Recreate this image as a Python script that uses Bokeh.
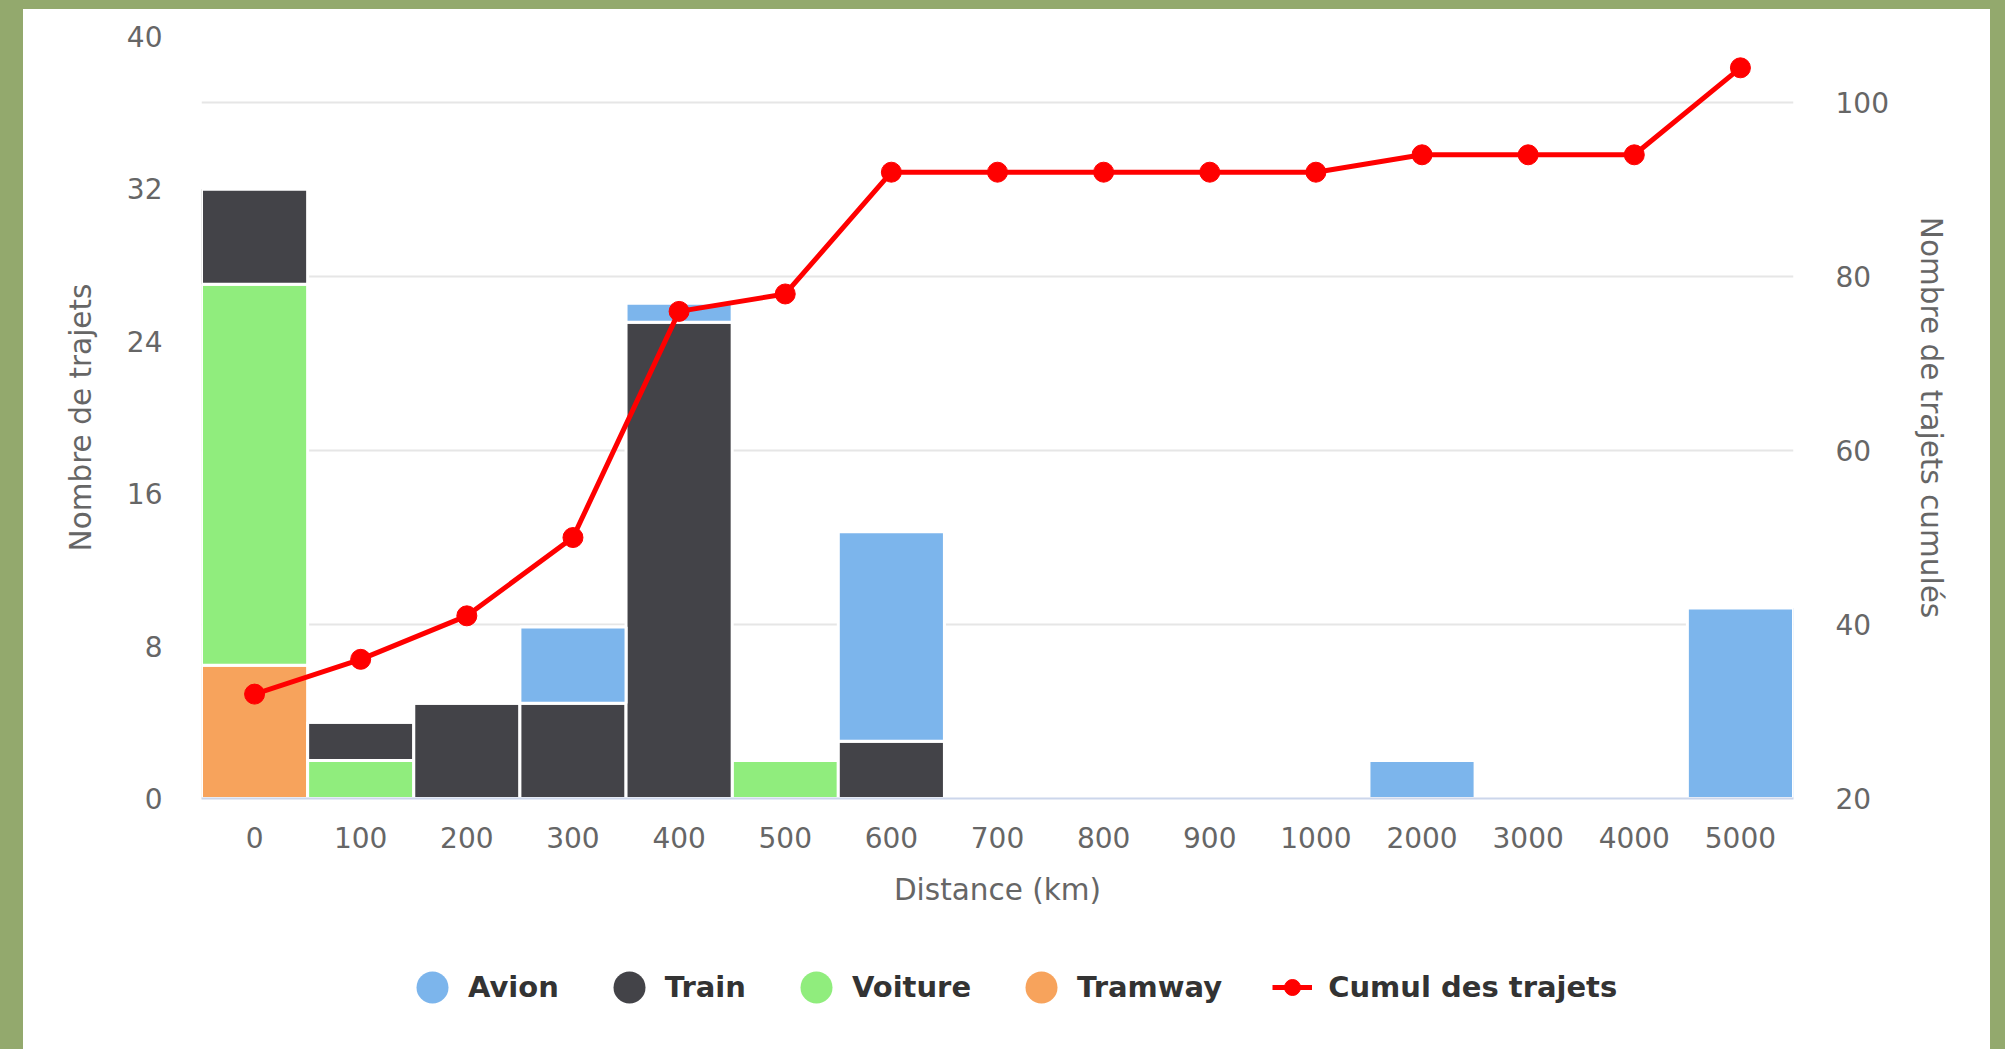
from bokeh.plotting import figure
from bokeh.models import (Range1d, FactorRange, LinearAxis, FixedTicker, Grid,
                          Legend, LegendItem, ColumnDataSource)
from bokeh.layouts import column
from bokeh.embed import file_html
from bokeh.resources import INLINE

# ---------------- data ----------------
distances = ["0", "100", "200", "300", "400", "500", "600", "700", "800",
             "900", "1000", "2000", "3000", "4000", "5000"]
avion   = [0, 0, 0, 4, 1, 0, 11, 0, 0, 0, 0, 2, 0, 0, 10]
train   = [5, 2, 5, 5, 25, 0, 3, 0, 0, 0, 0, 0, 0, 0, 0]
voiture = [20, 2, 0, 0, 0, 2, 0, 0, 0, 0, 0, 0, 0, 0, 0]
tramway = [7, 0, 0, 0, 0, 0, 0, 0, 0, 0, 0, 0, 0, 0, 0]
cumul   = [32, 36, 41, 50, 76, 78, 92, 92, 92, 92, 92, 94, 94, 94, 104]

left_ticks = [0, 8, 16, 24, 32, 40]
right_ticks = [20, 40, 60, 80, 100]

series_names = ["Avion", "Train", "Voiture", "Tramway"]
line_name = "Cumul des trajets"
colors = {"Avion": "#7cb5ec", "Train": "#434348", "Voiture": "#90ed7d", "Tramway": "#f7a35c"}

FONT = "DejaVu Sans"
GREEN = "#93a96d"
TXT = "#666666"

source = ColumnDataSource(dict(dist=distances, Avion=avion, Train=train,
                               Voiture=voiture, Tramway=tramway, cumul=cumul))

# ---------------- main chart ----------------
p = figure(x_range=FactorRange(factors=distances, range_padding=0),
           y_range=Range1d(0, 40),
           width=1967, height=930,
           output_backend="svg", toolbar_location=None,
           min_border_left=178, min_border_right=197,
           min_border_top=27, min_border_bottom=141,
           background_fill_color="white", border_fill_color="white",
           outline_line_color=None)
p.extra_y_ranges = {"cumul": Range1d(20, 107.6)}

p.xgrid.visible = False
p.ygrid.visible = False
grid = Grid(dimension=1, ticker=FixedTicker(ticks=right_ticks), y_range_name="cumul",
            grid_line_color="#e6e6e6", grid_line_width=2)
p.add_layout(grid)

stack_order = ["Tramway", "Voiture", "Train", "Avion"]
p.vbar_stack(stack_order, x="dist", width=1.0, source=source,
             color=[colors[s] for s in stack_order],
             line_color="white", line_width=3)

p.line(x="dist", y="cumul", source=source, y_range_name="cumul",
       line_color="#ff0000", line_width=5)
p.scatter(x="dist", y="cumul", source=source, y_range_name="cumul",
          size=20, fill_color="#ff0000", line_color="#ff0000")

for ax in p.yaxis:
    ax.ticker = FixedTicker(ticks=left_ticks)
ax = p.yaxis[0]
ax.axis_line_color = None
ax.major_tick_line_color = None
ax.minor_tick_line_color = None
ax.major_label_standoff = 33
ax.major_label_text_font = FONT
ax.major_label_text_font_size = "28px"
ax.major_label_text_color = TXT
ax.axis_label = "Nombre de trajets"
ax.axis_label_standoff = 26
ax.axis_label_text_font = FONT
ax.axis_label_text_font_size = "29.5px"
ax.axis_label_text_font_style = "normal"
ax.axis_label_text_color = TXT

rax = LinearAxis(y_range_name="cumul", ticker=FixedTicker(ticks=right_ticks),
                 axis_line_color=None, major_tick_line_color=None,
                 minor_tick_line_color=None, major_label_standoff=36,
                 major_label_text_font=FONT, major_label_text_font_size="28px",
                 major_label_text_color=TXT,
                 axis_label="Nombre de trajets cumulés", axis_label_standoff=22,
                 axis_label_text_font=FONT, axis_label_text_font_size="29.5px",
                 axis_label_text_font_style="normal", axis_label_text_color=TXT)
p.add_layout(rax, "right")

xa = p.xaxis[0]
xa.axis_line_color = "#ccd6eb"
xa.axis_line_width = 2
xa.major_tick_line_color = None
xa.minor_tick_line_color = None
xa.major_label_standoff = 22
xa.major_label_text_font = FONT
xa.major_label_text_font_size = "28px"
xa.major_label_text_color = TXT
xa.axis_label = "Distance (km)"
xa.axis_label_standoff = 22
xa.axis_label_text_font = FONT
xa.axis_label_text_font_size = "29.5px"
xa.axis_label_text_font_style = "normal"
xa.axis_label_text_color = TXT

# ---------------- legend strip ----------------
lg = figure(width=1967, height=110, x_range=Range1d(0, 1), y_range=Range1d(0, 1),
            output_backend="svg", toolbar_location=None,
            x_axis_location=None, y_axis_location=None,
            min_border=0, outline_line_color=None,
            background_fill_alpha=0, border_fill_color="white")
lg.xgrid.visible = False
lg.ygrid.visible = False

legend_items = []
for s in series_names:
    r = lg.ellipse(x=[0.5], y=[-10], width=30, height=30,
                   width_units="screen", height_units="screen",
                   fill_color=colors[s], line_color=None)
    legend_items.append(LegendItem(label=s, renderers=[r]))
lr = lg.line(x=[-3, -2], y=[-3, -2], line_color="#ff0000", line_width=5)
mr = lg.scatter(x=[-3], y=[-3], size=20, fill_color="#ff0000", line_color="#ff0000")
legend_items.append(LegendItem(label=line_name, renderers=[lr, mr]))

legend = Legend(items=legend_items, orientation="horizontal", location=(211, 42),
                glyph_width=40, glyph_height=40, label_standoff=16, spacing=50,
                label_text_font=FONT, label_text_font_size="29px",
                label_text_font_style="bold", label_text_color="#333333",
                border_line_color=None, background_fill_alpha=0,
                margin=0, padding=0)
lg.add_layout(legend)

inner = column(p, lg, spacing=0, styles={"background-color": "white"})
inner.margin = (9, 15, 0, 23)
layout = column(inner, styles={"background-color": GREEN})

open("out.html", "w").write(file_html(layout, INLINE))
